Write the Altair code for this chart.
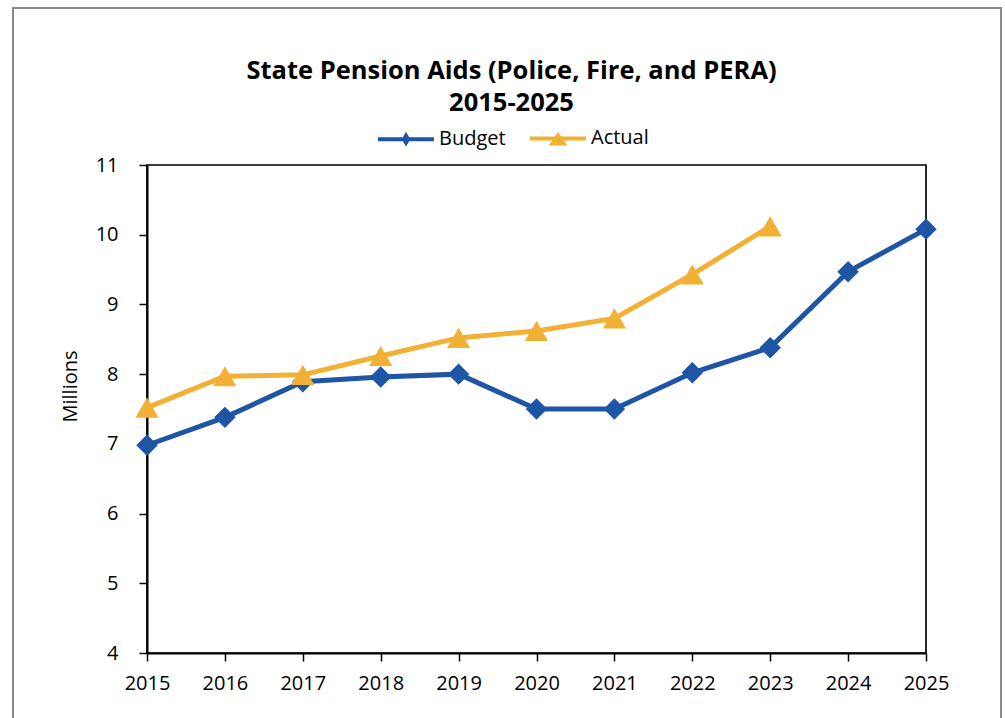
import altair as alt
import pandas as pd

# ---- data ----
budget_years = [2015, 2016, 2017, 2018, 2019, 2020, 2021, 2022, 2023, 2024, 2025]
budget_values = [6.98, 7.38, 7.89, 7.96, 8.00, 7.50, 7.50, 8.02, 8.38, 9.47, 10.08]
actual_years = [2015, 2016, 2017, 2018, 2019, 2020, 2021, 2022, 2023]
actual_values = [7.52, 7.97, 7.99, 8.26, 8.52, 8.62, 8.80, 9.43, 10.12]
series_names = ["Budget", "Actual"]
series_colors = ["#1f55a5", "#f2b134"]
x_ticks = [2015, 2016, 2017, 2018, 2019, 2020, 2021, 2022, 2023, 2024, 2025]
y_ticks = [4, 5, 6, 7, 8, 9, 10, 11]
title_lines = ["State Pension Aids (Police, Fire, and PERA)", "2015-2025"]
y_title = "Millions"

rows = [{"year": yr, "value": v, "series": "Budget"} for yr, v in zip(budget_years, budget_values)]
rows += [{"year": yr, "value": v, "series": "Actual"} for yr, v in zip(actual_years, actual_values)]
df = pd.DataFrame(rows)

FONT = "Open Sans"

x = alt.X(
    "year:Q",
    scale=alt.Scale(domain=[x_ticks[0], x_ticks[-1]], nice=False, zero=False),
    axis=alt.Axis(values=x_ticks, format="d", title=None, labelFlush=False,
                  labelOverlap=False, labelPadding=12),
)
y = alt.Y(
    "value:Q",
    scale=alt.Scale(domain=[y_ticks[0], y_ticks[-1]], nice=False, zero=False),
    axis=alt.Axis(values=y_ticks, title=y_title, labelPadding=21, titleX=-77, titleY=221,
                  titleAngle=270, titleAlign="center", titleBaseline="middle",
                  titleFont=FONT, titleFontSize=20, titleFontWeight="normal", titleColor="#000"),
)

def series_layers(name, color, shape, size):
    base = alt.Chart(df).transform_filter(alt.datum.series == name)
    line = base.mark_line(strokeWidth=5, color=color).encode(x=x, y=y)
    pts = base.mark_point(shape=shape, filled=True, size=size, opacity=1, color=color).encode(x=x, y=y)
    return [line, pts]

budget_layers = series_layers("Budget", series_colors[0], "diamond", 460)
actual_layers = series_layers("Actual", series_colors[1], "triangle-up", 540)

# legend-only layer (marks invisible) with line+marker symbols
legend_shapes = [
    "M-1,0L1,0M0,-0.125L0.07,0L0,0.125L-0.07,0Z",
    "M-1,0L1,0M-0.2,0.18L0,-0.11L0.2,0.18Z",
]
leg_props = dict(
    title=None, orient="none", legendX=229, legendY=-57, direction="horizontal",
    labelFont=FONT, labelFontSize=20, labelColor="#000", symbolStrokeWidth=4,
    symbolSize=3136, labelOffset=3, columnPadding=16, symbolOpacity=1,
)
legend_layer = alt.Chart(df).mark_point(
    filled=False, size=3136, strokeWidth=4, opacity=0
).encode(
    x=x, y=y,
    fill=alt.Fill("series:N", scale=alt.Scale(domain=series_names, range=series_colors),
                  legend=alt.Legend(**leg_props)),
    stroke=alt.Stroke("series:N", scale=alt.Scale(domain=series_names, range=series_colors),
                      legend=alt.Legend(**leg_props)),
    shape=alt.Shape("series:N", scale=alt.Scale(domain=series_names, range=legend_shapes),
                    legend=alt.Legend(**leg_props)),
)

# outer frame around the whole figure (decoration)
frame = alt.Chart(pd.DataFrame({"k": [0]})).mark_rect(
    fill="transparent", stroke="#8a8a8a", strokeWidth=2
).encode(x=alt.value(-134), x2=alt.value(854), y=alt.value(-157), y2=alt.value(580))

chart = alt.layer(frame, *budget_layers, *actual_layers, legend_layer).properties(
    width=779, height=488,
    title=alt.TitleParams(text=title_lines, font=FONT, fontSize=25.5, fontWeight="bold",
                          color="#000", anchor="middle", dx=-25, lineHeight=32, offset=-109),
    autosize=alt.AutoSizeParams(type="none"),
    padding={"left": 147, "top": 165, "right": 79, "bottom": 65},
    background="white",
).configure_view(
    stroke="#000", strokeWidth=1.7
).configure_axis(
    domainColor="#000", domainWidth=2, tickColor="#000", tickWidth=1.5, tickSize=8,
    labelFont=FONT, labelFontSize=20, labelColor="#000", grid=False,
)

chart.save("out.html", embed_options={"renderer": "svg", "actions": False})
